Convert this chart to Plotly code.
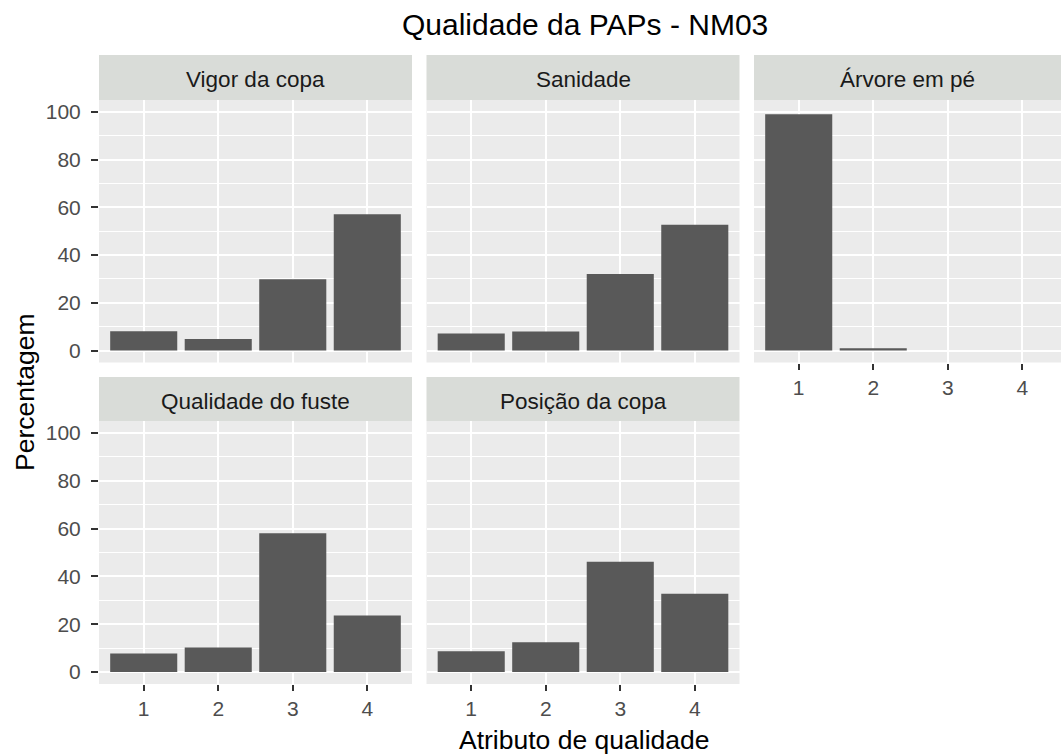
import plotly.graph_objects as go

# Percentage of trees in each quality class (1-4) per attribute
categorias = [1, 2, 3, 4]
vigor_da_copa = [8.1, 4.9, 29.9, 57.1]
sanidade = [7.2, 8.0, 32.1, 52.7]
arvore_em_pe_cat = [1, 2]
arvore_em_pe = [99.0, 1.0]
qualidade_do_fuste = [7.8, 10.3, 58.1, 23.7]
posicao_da_copa = [8.7, 12.5, 46.1, 32.7]

paineis = ["Vigor da copa", "Sanidade", "Árvore em pé",
           "Qualidade do fuste", "Posição da copa"]
x_ticks = [1, 2, 3, 4]
y_ticks = [0, 20, 40, 60, 80, 100]

W, H = 1061, 755
FONT = "Liberation Sans, Arial, sans-serif"
BAR = "#595959"
PANEL_BG = "#ebebeb"
STRIP_BG = "#d9dcd8"


def fx(px):
    return px / W


def fy(py):
    return 1 - py / H


cols = [(99, 412), (426.5, 739.5), (754, 1061)]
rows = [(100, 362.5), (421, 684)]
strips = [(55, 100), (377, 421)]
unit = (cols[0][1] - cols[0][0]) / 4.2

series = [
    (categorias, vigor_da_copa, 0, 0),
    (categorias, sanidade, 0, 1),
    (arvore_em_pe_cat, arvore_em_pe, 0, 2),
    (categorias, qualidade_do_fuste, 1, 0),
    (categorias, posicao_da_copa, 1, 1),
]

fig = go.Figure()
layout = dict(
    width=W, height=H,
    margin=dict(l=0, r=0, t=0, b=0),
    paper_bgcolor="white",
    plot_bgcolor=PANEL_BG,
    showlegend=False,
    font=dict(family=FONT, color="#4d4d4d"),
    shapes=[],
    annotations=[],
)

for i, ((xs, ys, r, c), nome) in enumerate(zip(series, paineis), start=1):
    sfx = "" if i == 1 else str(i)
    fig.add_trace(go.Bar(
        x=xs, y=ys, width=0.9, marker=dict(color=BAR, line=dict(width=0)),
        xaxis="x" + sfx, yaxis="y" + sfx, hoverinfo="x+y",
    ))
    x0, x1 = cols[c]
    y0, y1 = rows[r]
    xr_hi = 0.4 + (x1 - x0) / unit
    show_x = (r == 1) or (c == 2)
    show_y = (c == 0)
    layout["xaxis" + sfx] = dict(
        domain=[fx(x0), fx(x1)], anchor="y" + sfx,
        range=[0.4, min(4.6, xr_hi)], tickvals=x_ticks,
        showgrid=True, gridcolor="white", gridwidth=1.8, zeroline=False,
        showline=False, showticklabels=show_x,
        ticks="outside" if show_x else "", ticklen=6, tickwidth=1.5,
        tickcolor="#333333", tickfont=dict(size=21, color="#4d4d4d"),
        fixedrange=True,
    )
    layout["yaxis" + sfx] = dict(
        domain=[fy(y1), fy(y0)], anchor="x" + sfx,
        range=[-5, 105], tickvals=y_ticks,
        showgrid=True, gridcolor="white", gridwidth=1.8, zeroline=False,
        minor=dict(dtick=10, tick0=0, showgrid=True, gridcolor="white",
                   gridwidth=1.0),
        showline=False, showticklabels=show_y,
        ticks="outside" if show_y else "", ticklen=7, tickwidth=1.5,
        tickcolor="#333333", tickfont=dict(size=21, color="#4d4d4d"),
        ticklabelstandoff=6,
        fixedrange=True,
    )
    # facet strip
    s0, s1 = strips[r]
    layout["shapes"].append(dict(
        type="rect", xref="paper", yref="paper",
        x0=fx(x0), x1=fx(x1), y0=fy(s1), y1=fy(s0),
        fillcolor=STRIP_BG, line=dict(width=0), layer="below",
    ))
    layout["annotations"].append(dict(
        text=nome, xref="paper", yref="paper",
        x=fx((x0 + min(x1, x0 + 4.2 * unit)) / 2), y=fy((s0 + s1) / 2 + 2),
        xanchor="center", yanchor="middle", showarrow=False,
        font=dict(size=22.5, color="#1a1a1a", family=FONT),
    ))

# titles
layout["annotations"] += [
    dict(text="Qualidade da PAPs - NM03", xref="paper", yref="paper",
         x=fx(585), y=fy(24), xanchor="center", yanchor="middle",
         showarrow=False, font=dict(size=30, color="#000000", family=FONT)),
    dict(text="Atributo de qualidade", xref="paper", yref="paper",
         x=fx(584), y=fy(740), xanchor="center", yanchor="middle",
         showarrow=False, font=dict(size=26.5, color="#000000", family=FONT)),
    dict(text="Percentagem", xref="paper", yref="paper",
         x=fx(25), y=fy(392), xanchor="center", yanchor="middle",
         textangle=-90, showarrow=False,
         font=dict(size=26.5, color="#000000", family=FONT)),
]

fig.update_layout(**layout)
fig.write_html("out.html")
